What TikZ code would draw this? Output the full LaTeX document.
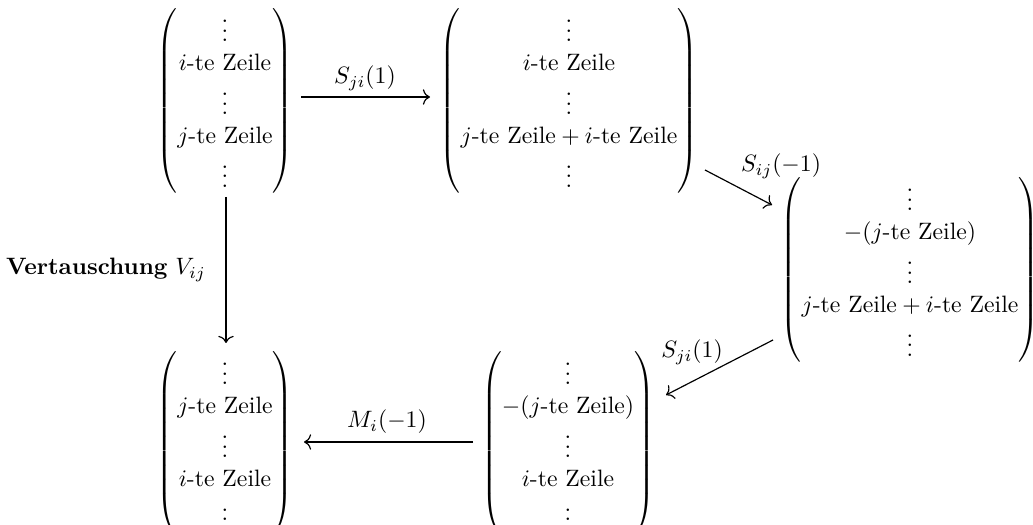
\documentclass[tikz,border=0pt]{standalone}
\usepackage{amsmath}
\usetikzlibrary{arrows.meta}
\begin{document}
\begin{tikzpicture}[x=0.4219pt,y=-0.4219pt,
  mat/.style={inner sep=0pt,outer sep=0pt},
  lab/.style={inner sep=1pt},
  arr/.style={-{Computer Modern Rightarrow[length=3pt,width=6.5pt]},line width=0.5pt}]
\useasboundingbox (0,0) rectangle (1033,525);
\node[mat] (m1) at (225,101) {$\begin{pmatrix}\vdots\\ i\text{-te Zeile}\\ \vdots\\ j\text{-te Zeile}\\ \vdots\end{pmatrix}$};
\node[mat] (m2) at (569,101) {$\begin{pmatrix}\vdots\\ i\text{-te Zeile}\\ \vdots\\ j\text{-te Zeile}+i\text{-te Zeile}\\ \vdots\end{pmatrix}$};
\node[mat] (m3) at (910,270) {$\begin{pmatrix}\vdots\\ -(j\text{-te Zeile})\\ \vdots\\ j\text{-te Zeile}+i\text{-te Zeile}\\ \vdots\end{pmatrix}$};
\node[mat] (m4) at (225,444) {$\begin{pmatrix}\vdots\\ j\text{-te Zeile}\\ \vdots\\ i\text{-te Zeile}\\ \vdots\end{pmatrix}$};
\node[mat] (m5) at (568,444) {$\begin{pmatrix}\vdots\\ -(j\text{-te Zeile})\\ \vdots\\ i\text{-te Zeile}\\ \vdots\end{pmatrix}$};
\coordinate (a1s) at (301,97);
\coordinate (a1e) at (430,97);
\coordinate (a2s) at (705,170);
\coordinate (a2e) at (772,205);
\coordinate (a3s) at (226,197);
\coordinate (a3e) at (226,343);
\coordinate (a4s) at (773,340);
\coordinate (a4e) at (666,395);
\coordinate (a5s) at (473,442);
\coordinate (a5e) at (304,442);
\draw[arr] (a1s) -- (a1e);
\draw[arr] (a2s) -- (a2e);
\draw[arr] (a3s) -- (a3e);
\draw[arr] (a4s) -- (a4e);
\draw[arr] (a5s) -- (a5e);
\node[lab] (l1) at (365,78) {$S_{ji}(1)$};
\node[lab] (l2) at (781,166) {$S_{ij}(-1)$};
\node[lab] (l3) at (106,270) {\textbf{Vertauschung} $V_{ij}$};
\node[lab] (l4) at (692,352) {$S_{ji}(1)$};
\node[lab] (l5) at (387,422) {$M_i(-1)$};
\end{tikzpicture}
\end{document}
